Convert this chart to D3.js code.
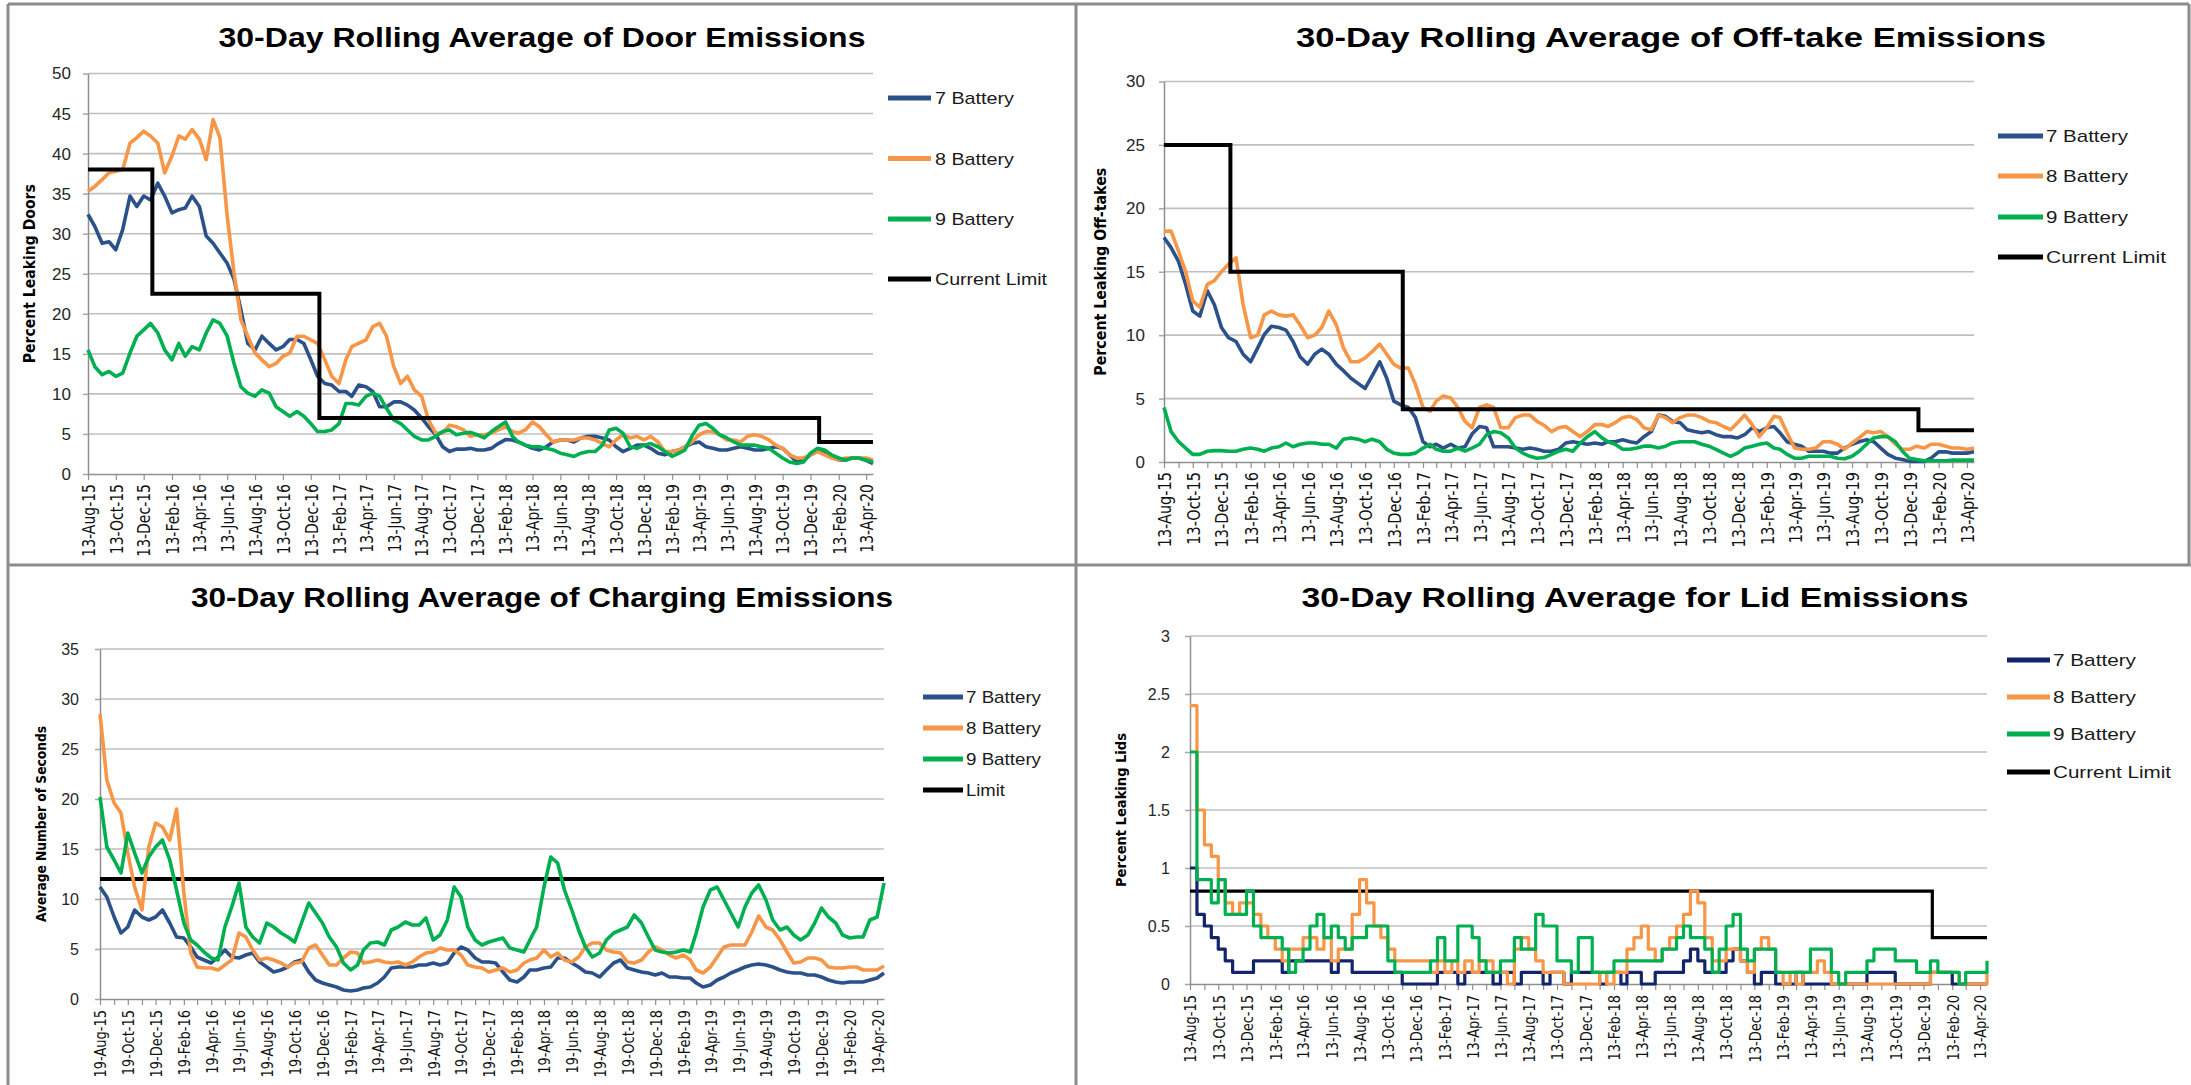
<!DOCTYPE html>
<html>
<head>
<meta charset="utf-8">
<script src="https://cdn.jsdelivr.net/npm/d3@7"></script>
<style>
html, body { margin: 0; padding: 0; background: #fff; }
svg { display: block; }
</style>
</head>
<body>
<svg id="chart"></svg>
<script>
// half-monthly readings, Aug-15 .. Apr-20 (114 points per series)

// Door emissions (% leaking doors)
const doorB7 = [32.4, 30.9, 28.8, 29, 28, 30.5, 34.7, 33.4, 34.7, 34.2, 36.3, 34.7, 32.6, 33, 33.2, 34.7, 33.4, 29.7, 28.8, 27.6,
	26.3, 24.3, 20.5, 16.3, 15.5, 17.2, 16.3, 15.5, 15.9, 16.8, 16.8, 16.3, 14.3, 12.2, 11.3, 11.1, 10.3, 10.3, 9.7, 11.1,
	10.9, 10.3, 8.4, 8.4, 9, 9, 8.6, 8, 7, 5.9, 4.9, 3.4, 2.8, 3.1, 3.1, 3.2, 3, 3,
	3.2, 3.8, 4.3, 4.25, 4, 3.6, 3.2, 3, 3.4, 4, 4.25, 4.25, 4, 4.5, 4.7, 4.7, 4.5, 4.25, 3.4, 2.8,
	3.2, 3.6, 3.6, 3.2, 2.6, 2.4, 2.8, 3, 3.4, 3.8, 4, 3.4, 3.2, 3, 3, 3.2, 3.4, 3.2, 3, 3,
	3.2, 3.4, 3.2, 2.4, 1.5, 1.75, 2.4, 2.8, 2.6, 2.2, 1.75, 1.75, 2, 2, 1.7, 1.3];
const doorB8 = [35.3, 35.9, 36.75, 37.6, 37.8, 38, 41.3, 42, 42.8, 42.2, 41.3, 37.6, 39.7, 42.2, 41.8, 43, 41.8, 39.25, 44.25, 42,
	32.2, 25.1, 19.25, 17.2, 15.1, 14.25, 13.4, 13.8, 14.7, 15.1, 17.2, 17.2, 16.75, 16.3, 14.25, 12.2, 11.3, 14.25, 15.9, 16.3,
	16.75, 18.4, 18.8, 17.2, 13.4, 11.3, 12.2, 10.5, 9.7, 6.75, 5.1, 5.1, 6.1, 5.9, 5.5,
	4.7, 4.9, 4.9, 5.1, 5.5, 5.9, 5.3, 5.1, 5.5, 6.5, 5.9, 4.9, 4, 4.25, 4.25, 4.25, 4.5, 4.5, 4.25, 3.8,
	3.4, 4.25, 4.9, 4.5, 4.7, 4.25, 4.7, 4, 2.8, 2.8, 3, 3.4, 4, 4.9, 5.3, 5.3, 4.9, 4.25, 4.25, 4,
	4.7, 4.9, 4.7, 4.25, 3.6, 3.2, 2.4, 2, 2, 2.4, 2.8, 2.4, 2, 1.75, 2, 2, 2, 2, 1.75];
const doorB9 = [15.5, 13.4, 12.4, 12.8, 12.2, 12.6, 15.1, 17.2, 18, 18.8, 17.6, 15.5, 14.25, 16.3, 14.7, 15.9, 15.5, 17.6, 19.25, 18.8,
	17.2, 13.8, 10.9, 10.1, 9.7, 10.5, 10.1, 8.4, 7.8, 7.2, 7.8, 7.2, 6.3, 5.3, 5.3, 5.5, 6.3, 8.8, 8.8, 8.6,
	9.7, 10.1, 9.7, 8.2, 6.75, 6.3, 5.5, 4.7, 4.25, 4.25, 4.7, 5.3, 5.5, 4.9, 5.1,
	5.2, 4.9, 4.5, 5.3, 5.9, 6.5, 4.7, 4, 3.6, 3.4, 3.4, 3.2, 3, 2.6, 2.4, 2.2, 2.6, 2.8, 2.8, 3.6,
	5.5, 5.7, 5.1, 3.4, 3.2, 3.6, 3.8, 3.4, 2.8, 2.2, 2.6, 3, 4.7, 6.1, 6.3, 5.7, 4.9, 4.5, 4, 3.6,
	3.6, 3.6, 3.4, 3.2, 2.6, 2, 1.5, 1.3, 1.5, 2.6, 3.2, 3, 2.4, 2, 1.75, 2, 2, 1.75, 1.5];
const doorLimitDates = ['2015-08-13', '2016-01-01', '2017-01-01', '2020-01-01', '2020-04-28'];
const doorLimit = [38, 22.5, 7, 4, 4];

// Off-take emissions (% leaking off-takes)
const offB7 = [17.7, 16.9, 15.8, 14, 11.9, 11.5, 13.5, 12.4, 10.6, 9.8, 9.5, 8.5, 7.9, 9, 10.05, 10.7, 10.6, 10.4, 9.5, 8.3,
	7.7, 8.5, 8.9, 8.5, 7.7, 7.2, 6.6, 6.2, 5.8, 6.8, 7.9, 6.6, 4.8, 4.5, 4.3, 3.5, 1.6, 1.2, 1.4, 1.1,
	1.4, 1.1, 1.2, 2.2, 2.8, 2.7, 1.2, 1.2, 1.2, 1.1, 1, 1.1, 1, 0.85, 0.85, 1, 1.5,
	1.6, 1.5, 1.4, 1.5, 1.4, 1.6, 1.6, 1.75, 1.6, 1.5, 2, 2.4, 3.7, 3.6, 3.2, 3.1, 2.55, 2.4, 2.3, 2.4,
	2.15, 2, 2, 1.9, 2.15, 2.7, 2.4, 2.7, 2.8, 2.3, 1.6, 1.4, 1.25, 0.85, 0.85, 0.85, 0.7, 0.7, 1.1, 1.4,
	1.6, 1.75, 1.6, 1.1, 0.6, 0.3, 0.2, 0.05, 0.05, 0.05, 0.3, 0.8, 0.8, 0.7, 0.7, 0.7, 0.8];
const offB8 = [18.2, 18.2, 16.6, 15, 12.7, 12.2, 14, 14.3, 15, 15.6, 16.1, 12.4, 9.8, 10, 11.6, 11.9, 11.6, 11.5, 11.6, 10.8,
	9.8, 10, 10.6, 11.9, 10.8, 9, 7.9, 7.9, 8.2, 8.7, 9.3, 8.5, 7.7, 7.4, 7.4, 6.1, 4.3, 4, 4.8, 5.2,
	5.05, 4.3, 3.2, 2.7, 4.3, 4.5, 4.3, 2.7, 2.7, 3.5, 3.7, 3.7, 3.2, 2.9, 2.4, 2.7, 2.8,
	2.4, 2, 2.4, 2.95, 2.95, 2.8, 3.1, 3.5, 3.6, 3.35, 2.7, 2.55, 3.7, 3.5, 3.1, 3.5, 3.7, 3.7, 3.5, 3.2,
	3.1, 2.8, 2.55, 3.1, 3.7, 2.95, 2, 2.7, 3.6, 3.5, 2.3, 1.1, 1, 1, 1.1, 1.6, 1.6, 1.4, 1, 1.5,
	1.9, 2.4, 2.3, 2.4, 2, 1.4, 1, 1, 1.25, 1.1, 1.4, 1.4, 1.25, 1.1, 1.1, 1, 1.1];
const offB9 = [4.3, 2.4, 1.6, 1.1, 0.6, 0.6, 0.85, 0.9, 0.9, 0.85, 0.85, 1, 1.1, 1, 0.85, 1.1, 1.2, 1.5, 1.2, 1.4,
	1.5, 1.5, 1.4, 1.4, 1.1, 1.8, 1.9, 1.8, 1.6, 1.8, 1.6, 1, 0.7, 0.6, 0.6, 0.7, 1.1, 1.4, 1, 0.85,
	0.85, 1.1, 0.85, 1.1, 1.4, 2.15, 2.4, 2.3, 1.9, 1.1, 0.7, 0.45, 0.3, 0.35, 0.6, 0.85, 1,
	0.85, 1.5, 2, 2.4, 1.9, 1.6, 1.4, 1, 1, 1.1, 1.25, 1.25, 1.1, 1.25, 1.5, 1.6, 1.6, 1.6, 1.4, 1.25,
	1, 0.7, 0.45, 0.7, 1.1, 1.25, 1.4, 1.5, 1.1, 1, 0.6, 0.3, 0.3, 0.45, 0.45, 0.45, 0.45, 0.3, 0.25, 0.45,
	0.85, 1.4, 1.9, 2, 2, 1.6, 0.85, 0.3, 0.2, 0.1, 0.1, 0.1, 0.1, 0.15, 0.15, 0.15, 0.15];
const offLimitDates = ['2015-08-13', '2016-01-01', '2017-01-01', '2020-01-01', '2020-04-28'];
const offLimit = [25, 15, 4.15, 2.5, 2.5];

// Charging emissions (average seconds)
const chgB7 = [11.2, 10.2, 8.2, 6.6, 7.2, 8.9, 8.2, 7.9, 8.2, 8.9, 7.6, 6.2, 6.1, 5.2, 4.2, 3.9, 3.6, 4.2, 4.9, 4.2,
	4.1, 4.4, 4.6, 3.7, 3.2, 2.7, 2.9, 3.2, 3.7, 3.9, 2.7, 1.9, 1.6, 1.4, 1.2, 0.9, 0.8, 0.9, 1.1, 1.2,
	1.6, 2.2, 3.1, 3.2, 3.2, 3.2, 3.4, 3.4, 3.6, 3.4, 3.6, 4.6, 5.2, 4.9, 4.1, 3.7, 3.7,
	3.6, 2.7, 1.9, 1.7, 2.2, 2.9, 2.9, 3.1, 3.2, 4.1, 4.1, 3.6, 3.2, 2.7, 2.6, 2.2, 2.9, 3.6, 3.9, 3.1,
	2.9, 2.7, 2.6, 2.4, 2.6, 2.2, 2.2, 2.1, 2.1, 1.6, 1.2, 1.4, 1.9, 2.2, 2.6, 2.9, 3.2, 3.4, 3.5, 3.4,
	3.2, 2.9, 2.7, 2.6, 2.6, 2.4, 2.4, 2.2, 1.9, 1.7, 1.6, 1.7, 1.7, 1.7, 1.9, 2.1, 2.6];
const chgB8 = [28.5, 21.9, 19.6, 18.6, 14.6, 11.2, 8.9, 15.2, 17.6, 17.2, 15.9, 19, 10.6, 4.6, 3.2, 3.1, 3.1, 2.9, 3.4, 3.9,
	6.6, 6.2, 4.9, 3.9, 4.1, 3.9, 3.6, 3.2, 3.6, 3.7, 5.1, 5.4, 4.4, 3.4, 3.4, 4.1, 4.7, 4.6, 3.6, 3.7,
	3.9, 3.7, 3.6, 3.7, 3.4, 3.7, 4.2, 4.6, 4.7, 5.1, 4.9, 4.9, 4.4, 3.4, 3.2, 3.1, 2.7,
	2.9, 3.1, 2.7, 2.9, 3.6, 3.9, 4.1, 4.9, 4.2, 4.6, 3.9, 3.7, 4.2, 5.2, 5.6, 5.6, 4.9, 4.7, 4.6, 3.7,
	3.6, 3.9, 4.7, 5.2, 4.9, 4.4, 4.1, 4.4, 3.9, 2.9, 2.6, 3.2, 4.2, 5.2, 5.4, 5.4, 5.4, 6.7, 8.3, 7.2,
	6.9, 5.9, 4.7, 3.6, 3.7, 4.1, 4.1, 3.9, 3.2, 3.1, 3.1, 3.2, 3.2, 2.9, 2.9, 2.9, 3.3];
const chgB9 = [20.2, 15.2, 13.9, 12.6, 16.6, 14.6, 12.6, 14.2, 15.2, 15.9, 13.9, 10.9, 7.6, 5.9, 5.4, 4.7, 4.1, 3.9, 7.2, 9.2,
	11.6, 7.2, 6.2, 5.6, 7.6, 7.2, 6.6, 6.2, 5.7, 7.6, 9.6, 8.6, 7.6, 6.2, 5.2, 3.6, 2.9, 3.4, 4.9, 5.6,
	5.7, 5.4, 6.9, 7.2, 7.7, 7.4, 7.4, 8.1, 5.9, 6.4, 7.9, 11.2, 10.2, 7.2, 5.9, 5.4, 5.7,
	5.9, 6.1, 5.1, 4.9, 4.7, 5.9, 7.2, 11.2, 14.2, 13.6, 10.9, 8.9, 6.9, 5.2, 4.2, 4.6, 5.9, 6.6, 6.9, 7.2,
	8.4, 7.6, 6.2, 4.9, 4.7, 4.6, 4.7, 4.9, 4.7, 6.6, 9.2, 10.9, 11.2, 9.9, 8.6, 7.2, 9.2, 10.6, 11.4, 9.9,
	7.9, 6.9, 7.2, 6.4, 5.9, 6.4, 7.6, 9.1, 8.2, 7.6, 6.4, 6.1, 6.2, 6.2, 7.9, 8.2, 11.6];
const chgLimitDates = ['2015-08-19', '2020-05-04'];
const chgLimit = [12, 12];

// Lid emissions (% leaking lids)
const lidB7 = [1, 0.6, 0.5, 0.4, 0.3, 0.2, 0.1, 0.1, 0.1, 0.2, 0.2, 0.2, 0.2, 0.1, 0.2, 0.2, 0.2, 0.2, 0.2, 0.2,
	0.1, 0.2, 0.2, 0.1, 0.1, 0.1, 0.1, 0.1, 0.1, 0.1, 0, 0, 0, 0, 0, 0.1, 0.1, 0.1, 0, 0.1,
	0.1, 0.1, 0.1, 0, 0.1, 0.1, 0, 0.1, 0.1, 0.1, 0, 0.1, 0.1, 0, 0.1, 0.1, 0.1, 0.1,
	0, 0.1, 0.1, 0, 0.1, 0.1, 0, 0, 0.1, 0.1, 0.1, 0.1, 0.2, 0.3, 0.2, 0.1, 0.1, 0.1, 0.2, 0.3,
	0.2, 0.1, 0, 0.1, 0.1, 0, 0, 0, 0.1, 0, 0, 0, 0, 0, 0, 0, 0, 0, 0.1, 0.1,
	0.1, 0.1, 0, 0, 0, 0, 0, 0.1, 0.1, 0.1, 0, 0, 0, 0, 0, 0];
const lidB8 = [2.4, 1.5, 1.2, 1.1, 0.9, 0.7, 0.6, 0.7, 0.7, 0.6, 0.5, 0.4, 0.3, 0.2, 0.3, 0.3, 0.4, 0.4, 0.3, 0.4,
	0.2, 0.3, 0.3, 0.6, 0.9, 0.7, 0.5, 0.4, 0.3, 0.2, 0.2, 0.2, 0.2, 0.2, 0.1, 0.2, 0.1, 0.2, 0.1, 0.2,
	0.1, 0.2, 0.2, 0.1, 0.1, 0, 0.3, 0.4, 0.3, 0.2, 0.1, 0.1, 0.1, 0, 0, 0, 0, 0,
	0.1, 0, 0.1, 0.1, 0.3, 0.4, 0.5, 0.3, 0.2, 0.3, 0.4, 0.5, 0.6, 0.8, 0.7, 0.4, 0.2, 0.2, 0.3, 0.3,
	0.2, 0.1, 0.3, 0.4, 0.3, 0.1, 0, 0.1, 0, 0.1, 0.1, 0.2, 0.1, 0, 0, 0, 0, 0, 0, 0,
	0, 0, 0, 0, 0, 0, 0, 0.1, 0.1, 0.1, 0.1, 0, 0, 0, 0, 0.1];
const lidB9 = [2, 0.9, 0.9, 0.7, 0.9, 0.6, 0.6, 0.6, 0.8, 0.5, 0.4, 0.4, 0.4, 0.3, 0.1, 0.2, 0.3, 0.5, 0.6, 0.4,
	0.5, 0.4, 0.3, 0.4, 0.4, 0.5, 0.5, 0.5, 0.2, 0.1, 0.1, 0.1, 0.1, 0.1, 0.2, 0.4, 0.2, 0.2, 0.5, 0.5,
	0.4, 0.2, 0.1, 0.1, 0.2, 0.2, 0.4, 0.3, 0.3, 0.6, 0.5, 0.5, 0.2, 0.2, 0.1, 0.4, 0.4, 0.1,
	0.1, 0.1, 0.2, 0.2, 0.2, 0.2, 0.2, 0.2, 0.2, 0.3, 0.3, 0.4, 0.5, 0.4, 0.4, 0.3, 0.1, 0.3, 0.5, 0.6,
	0.3, 0.2, 0.3, 0.3, 0.3, 0.1, 0.1, 0.1, 0.1, 0.1, 0.3, 0.3, 0.3, 0.1, 0, 0.1, 0.1, 0.1, 0.2, 0.3,
	0.3, 0.3, 0.2, 0.2, 0.2, 0.1, 0.1, 0.2, 0.1, 0.1, 0.1, 0, 0.1, 0.1, 0.1, 0.2];
const lidLimitDates = ['2015-08-13', '2020-01-01', '2020-04-28'];
const lidLimit = [0.8, 0.4, 0.4];

const titles = [
	'30-Day Rolling Average of Door Emissions',
	'30-Day Rolling Average of Off-take Emissions',
	'30-Day Rolling Average of Charging Emissions',
	'30-Day Rolling Average for Lid Emissions'
];
const yTitles = ['Percent Leaking Doors', 'Percent Leaking Off-takes', 'Average Number of Seconds', 'Percent Leaking Lids'];
const seriesNames = ['7 Battery', '8 Battery', '9 Battery'];

const BLUE = '#2a5189', NAVY = '#13246b', ORANGE = '#f79646', GREEN = '#00b050';
const SANS = '"Liberation Sans", Arial, sans-serif',
	VERD = '"DejaVu Sans", Verdana, sans-serif';

const W = 2191, H = 1085;
const svg = d3.select('#chart').attr('width', W).attr('height', H);

// x categories: 2 readings a month
const months = d3.utcMonths(new Date(Date.UTC(2015, 7, 1)), new Date(Date.UTC(2020, 4, 1)));
const halfMonths = day => months.flatMap(m => [d3.utcDay.offset(m, day - 1), d3.utcDay.offset(m, day + 14)]);
const parse = d3.utcParse('%Y-%m-%d');
const fmt = d3.utcFormat('%d-%b-%y');

const panels = [
	{
		title: titles[0], yTitle: yTitles[0], yMax: 50, yStep: 5, day: 13, monthly: false,
		series: [doorB7, doorB8, doorB9], colors: [BLUE, ORANGE, GREEN],
		limit: {dates: doorLimitDates, values: doorLimit, name: 'Current Limit', onTop: true},
		plot: {l: 88, r: 873, t: 73.5, b: 474},
		titleX: 542, titleY: 47, titleW: 647,
		yTitleX: 29, yTitleW: 179, yTitleSize: 16, yPad: 12, yFont: 17, xFont: 14, xGap: 10,
		legend: {x0: 888, x1: 931, tx: 935, rows: [98, 158.5, 219, 279], widths: [79, 79, 79, 112]}
	},
	{
		title: titles[1], yTitle: yTitles[1], yMax: 30, yStep: 5, day: 13, monthly: true,
		series: [offB7, offB8, offB9], colors: [BLUE, ORANGE, GREEN],
		limit: {dates: offLimitDates, values: offLimit, name: 'Current Limit', onTop: true},
		plot: {l: 1164, r: 1974, t: 81.5, b: 462},
		titleX: 1671, titleY: 47, titleW: 750,
		yTitleX: 1100, yTitleW: 208, yTitleSize: 16, yPad: 14, yFont: 17, xFont: 14.5, xGap: 10,
		legend: {x0: 1998, x1: 2043, tx: 2046, rows: [136, 176, 217, 257], widths: [82, 82, 82, 120]}
	},
	{
		title: titles[2], yTitle: yTitles[2], yMax: 35, yStep: 5, day: 19, monthly: true,
		series: [chgB7, chgB8, chgB9], colors: [BLUE, ORANGE, GREEN],
		limit: {dates: chgLimitDates, values: chgLimit, name: 'Limit', onTop: false},
		plot: {l: 100, r: 884, t: 649, b: 999},
		titleX: 542, titleY: 607, titleW: 702,
		yTitleX: 41, yTitleW: 196, yTitleSize: 14.5, yPad: 16, yFont: 16, xFont: 13, xGap: 11,
		legend: {x0: 923, x1: 963, tx: 966, rows: [697, 728, 759, 790], widths: [75, 75, 75, 39]}
	},
	{
		title: titles[3], yTitle: yTitles[3], yMax: 3, yStep: 0.5, day: 13, monthly: true, step: true,
		series: [lidB7, lidB8, lidB9], colors: [NAVY, ORANGE, GREEN],
		limit: {dates: lidLimitDates, values: lidLimit, name: 'Current Limit', onTop: false},
		plot: {l: 1190, r: 1987, t: 636, b: 984},
		titleX: 1635, titleY: 607, titleW: 667,
		yTitleX: 1121, yTitleW: 154, yTitleSize: 14.5, yPad: 15, yFont: 16, xFont: 13, xGap: 11,
		legend: {x0: 2007, x1: 2050, tx: 2053, rows: [660, 697, 734, 772], widths: [83, 83, 83, 118]}
	}
];

panels.forEach(drawPanel);

// panel frames
const frame = svg.append('g').attr('stroke', '#8c8c8c').attr('stroke-width', 3);
frame.append('line').attr('x1', 8).attr('x2', 8).attr('y1', 4).attr('y2', H);
frame.append('line').attr('x1', 1076).attr('x2', 1076).attr('y1', 4).attr('y2', H);
frame.append('line').attr('x1', 2189).attr('x2', 2189).attr('y1', 4).attr('y2', 565);
frame.append('line').attr('x1', 8).attr('x2', 2189).attr('y1', 4).attr('y2', 4);
frame.append('line').attr('x1', 8).attr('x2', W).attr('y1', 565).attr('y2', 565);

function drawPanel(p) {
	const g = svg.append('g');
	const dates = halfMonths(p.day);
	const x = d3.scaleUtc()
		.domain([dates[0], dates[dates.length - 1]])
		.range([p.plot.l, p.plot.r]);
	const y = d3.scaleLinear().domain([0, p.yMax]).range([p.plot.b, p.plot.t]);
	const yTicks = d3.range(0, p.yMax + p.yStep / 2, p.yStep);

	// title
	g.append('text')
		.attr('x', p.titleX).attr('y', p.titleY)
		.attr('text-anchor', 'middle')
		.attr('font-family', SANS).attr('font-weight', 'bold').attr('font-size', 27)
		.attr('textLength', p.titleW).attr('lengthAdjust', 'spacingAndGlyphs')
		.text(p.title);

	// gridlines
	g.append('g').selectAll('line')
		.data(yTicks.filter(v => v > 0))
		.join('line')
		.attr('x1', p.plot.l).attr('x2', p.plot.r)
		.attr('y1', d => y(d)).attr('y2', d => y(d))
		.attr('stroke', '#bfbfbf').attr('stroke-width', 1.6);

	// y axis
	const ya = g.append('g')
		.attr('transform', `translate(${p.plot.l},0)`)
		.call(d3.axisLeft(y).tickValues(yTicks).tickSize(5).tickSizeOuter(0).tickPadding(p.yPad).tickFormat(d => String(d)))
		.attr('font-family', SANS).attr('font-size', p.yFont);
	ya.select('.domain').attr('stroke', '#8f8f8f').attr('stroke-width', 1.5);
	ya.selectAll('.tick line').attr('stroke', '#a6a6a6').attr('stroke-width', 1.5);
	ya.selectAll('.tick text').attr('fill', '#262626');

	// x axis
	const labelMonths = months.filter((m, i) => i % 2 === 0).map(m => d3.utcDay.offset(m, p.day - 1));
	const tickMonths = p.monthly ? months.map(m => d3.utcDay.offset(m, p.day - 1)) : labelMonths;
	const labelSet = new Set(labelMonths.map(d => +d));
	const xa = g.append('g')
		.attr('transform', `translate(0,${p.plot.b})`)
		.call(d3.axisBottom(x).tickValues(tickMonths).tickSize(6).tickSizeOuter(0)
			.tickFormat(d => labelSet.has(+d) ? fmt(d) : ''))
		.attr('font-family', VERD).attr('font-size', p.xFont);
	xa.select('.domain').attr('stroke', '#8f8f8f').attr('stroke-width', 1.6);
	xa.selectAll('.tick line').attr('stroke', '#8f8f8f').attr('stroke-width', 1.2);
	// wider glyphs across the label, as in the source image
	xa.selectAll('.tick text')
		.attr('transform', 'rotate(-90) scale(1,1.25)')
		.attr('x', -p.xGap).attr('y', 0).attr('dy', '0.36em')
		.attr('text-anchor', 'end')
		.attr('fill', '#111');

	// y axis title
	const cy = (p.plot.t + p.plot.b) / 2;
	g.append('text')
		.attr('transform', `translate(${p.yTitleX},${cy}) rotate(-90)`)
		.attr('text-anchor', 'middle').attr('dy', '0.36em')
		.attr('font-family', VERD).attr('font-weight', 'bold').attr('font-size', p.yTitleSize)
		.attr('textLength', p.yTitleW).attr('lengthAdjust', 'spacingAndGlyphs')
		.text(p.yTitle);

	// lines
	const curve = p.step ? d3.curveStepAfter : d3.curveLinear;
	const line = d3.line()
		.x((d, i) => x(dates[i]))
		.y(d => y(d))
		.curve(curve);
	const limitLine = d3.line()
		.x(d => x(parse(d.date)))
		.y(d => y(d.value))
		.curve(d3.curveStepAfter);
	const limitData = p.limit.dates.map((d, i) => ({date: d, value: p.limit.values[i]}));
	const seriesW = p.step ? 3.2 : 3.6;

	const drawLimit = () => g.append('path')
		.datum(limitData)
		.attr('d', limitLine)
		.attr('fill', 'none')
		.attr('stroke', '#000')
		.attr('stroke-width', p.step ? 3.2 : 4);

	if (!p.limit.onTop) drawLimit();
	g.append('g').selectAll('path')
		.data(p.series)
		.join('path')
		.attr('d', line)
		.attr('fill', 'none')
		.attr('stroke', (d, i) => p.colors[i])
		.attr('stroke-width', seriesW)
		.attr('stroke-linejoin', 'round');
	if (p.limit.onTop) drawLimit();

	// legend
	const lg = p.legend;
	const items = seriesNames.map((n, i) => ({name: n, color: p.colors[i]}))
		.concat([{name: p.limit.name, color: '#000'}]);
	const li = g.append('g').selectAll('g')
		.data(items)
		.join('g')
		.attr('transform', (d, i) => `translate(0,${lg.rows[i]})`);
	li.append('line')
		.attr('x1', lg.x0).attr('x2', lg.x1)
		.attr('stroke', d => d.color).attr('stroke-width', 5);
	li.append('text')
		.attr('x', lg.tx).attr('dy', '0.36em')
		.attr('font-family', SANS).attr('font-size', 17)
		.attr('textLength', (d, i) => lg.widths[i]).attr('lengthAdjust', 'spacingAndGlyphs')
		.attr('fill', '#1a1a1a')
		.text(d => d.name);
}
</script>
</body>
</html>
